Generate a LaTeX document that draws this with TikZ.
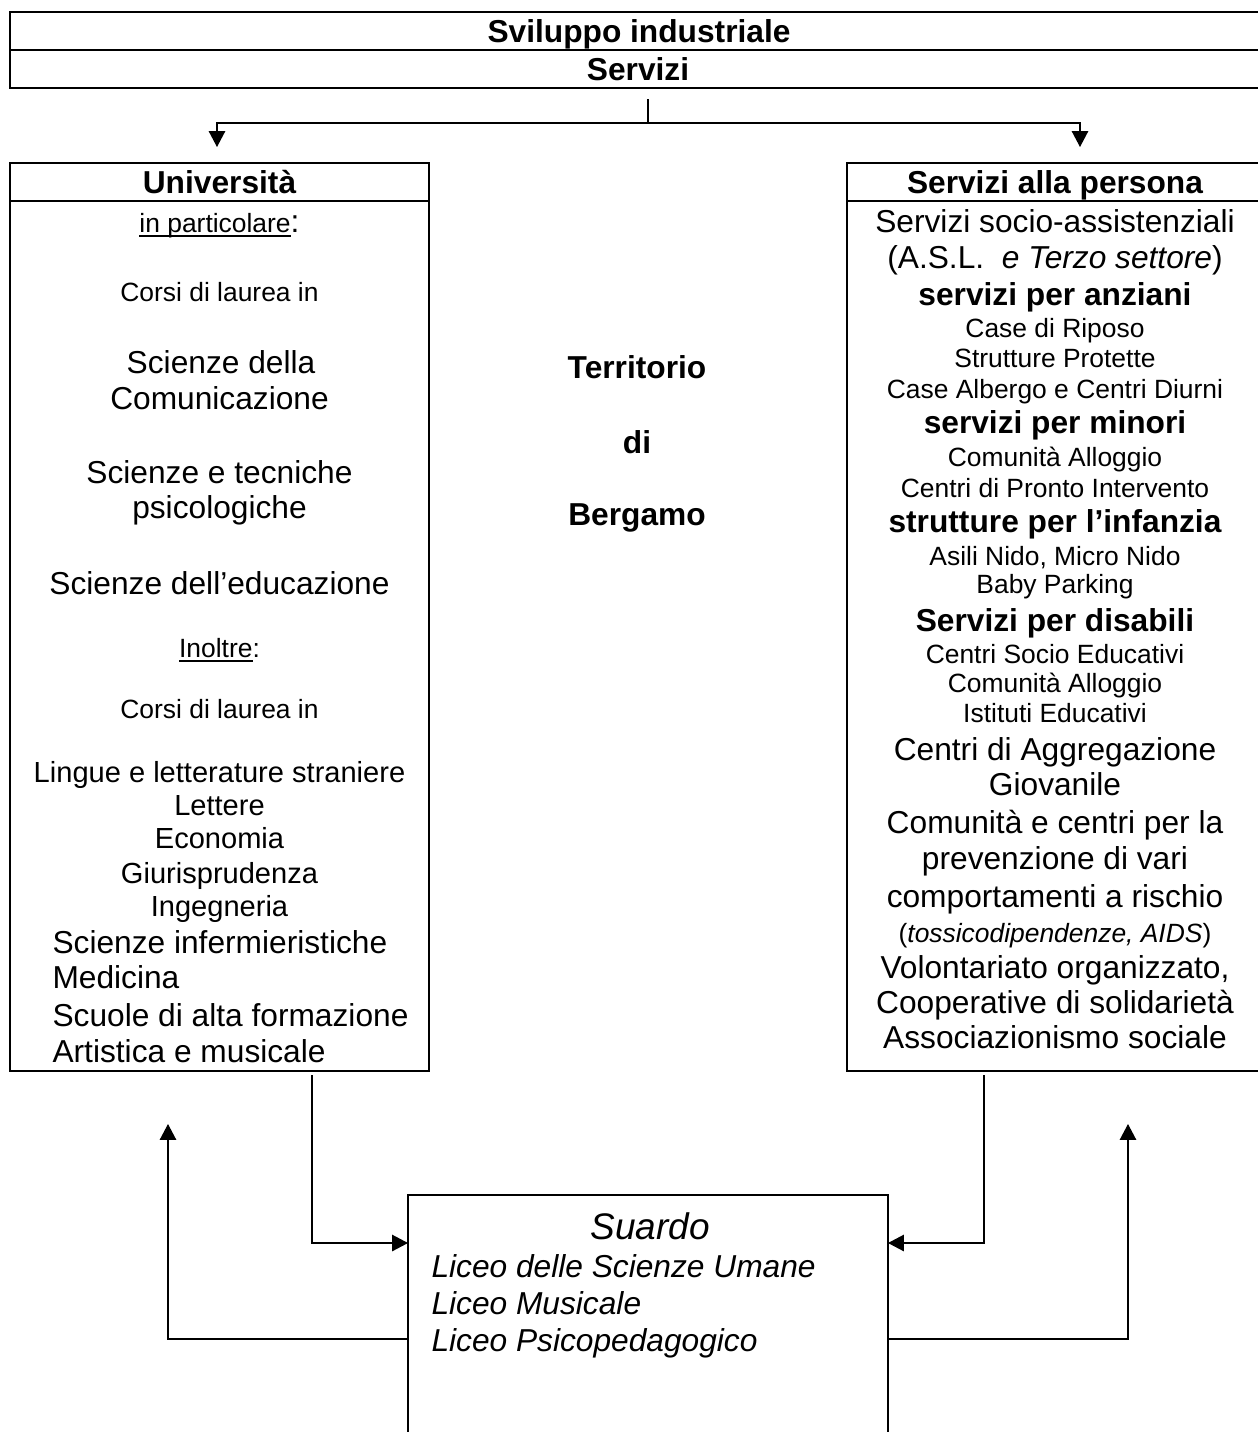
\documentclass[tikz,border=0pt]{standalone}
\usepackage{fontspec}
\setmainfont{Liberation Sans}
\usetikzlibrary{arrows.meta,fit}
\newcommand{\myul}[1]{\setbox0\hbox{#1}\rlap{\rule[-1.7pt]{\wd0}{0.45pt}}\box0}
\begin{document}
\begin{tikzpicture}[x=0.37855pt,y=-0.37855pt,
  boxline/.style={draw, line width=0.7pt, inner sep=0pt},
  thinbox/.style={draw, line width=0.45pt, inner sep=0pt},
  conn/.style={line width=0.5pt},
  arr/.style={conn, -{Triangle[length=6pt,width=6.2pt]}},
  ct/.style={anchor=base, inner sep=0pt},
  lt/.style={anchor=base west, inner sep=0pt},
  fxii/.style={font=\fontsize{12}{14}\selectfont},
  fxi/.style={font=\fontsize{11}{13}\selectfont},
  fx/.style={font=\fontsize{10}{12}\selectfont},
  fb/.style={font=\fontsize{12}{14}\selectfont\bfseries},
  fit12/.style={font=\fontsize{12}{14}\selectfont\itshape},
  fit14/.style={font=\fontsize{14}{16}\selectfont\itshape}]
\clip (0,0) rectangle (1258,1432);

% top box
\node[boxline, fit={(10,12)(1275,88)}] (top) {};
\draw[line width=0.7pt] (10,50) -- (1275,50);
\node[ct, fb] (t1) at (639,42) {Sviluppo industriale};
\node[ct, fb] (t2) at (638,80) {Servizi};

% connectors from top
\coordinate (s0) at (648,99);
\coordinate (s1) at (648,123);
\coordinate (sl) at (217,123);
\coordinate (sr) at (1080,123);
\coordinate (tl) at (217,147);
\coordinate (tr) at (1080,147);
\draw[conn] (s0) -- (s1);
\draw[arr] (s1) -- (sl) -- (tl);
\draw[arr] (s1) -- (sr) -- (tr);

% Universita box
\node[boxline, fit={(10,163)(429,1071)}] (univ) {};
\draw[line width=0.7pt] (10,201) -- (429,201);
\node[ct, fb] (u0) at (219.5,193) {Università};
\node[ct, fx] (u1) at (219.5,232) {\myul{in particolare}{\fontsize{12}{14}\selectfont:}};
\node[ct, fx] (u2) at (219.5,301) {Corsi di laurea in};
\node[ct, fxii] (u3) at (221,373) {Scienze della};
\node[ct, fxii] (u4) at (219.5,409) {Comunicazione};
\node[ct, fxii] (u5) at (219.5,483) {Scienze e tecniche};
\node[ct, fxii] (u6) at (219.5,518) {psicologiche};
\node[ct, fxii] (u7) at (219.5,594) {Scienze dell’educazione};
\node[ct, fx] (u8) at (219.5,657) {\myul{Inoltre}:};
\node[ct, fx] (u9) at (219.5,718) {Corsi di laurea in};
\node[ct, fxi] (u10) at (219.5,782) {Lingue e letterature straniere};
\node[ct, fxi] (u11) at (219.5,815) {Lettere};
\node[ct, fxi] (u12) at (219.5,848) {Economia};
\node[ct, fxi] (u13) at (219.5,883) {Giurisprudenza};
\node[ct, fxi] (u14) at (219.5,916) {Ingegneria};
\node[lt, fxii] (u15) at (52,953) {Scienze infermieristiche};
\node[lt, fxii] (u16) at (52,988) {Medicina};
\node[lt, fxii] (u17) at (52,1026) {Scuole di alta formazione};
\node[lt, fxii] (u18) at (52,1062) {Artistica e musicale};

% center text
\node[ct, fb] (c1) at (637,378) {Territorio};
\node[ct, fb] (c2) at (637,453) {di};
\node[ct, fb] (c3) at (637,525) {Bergamo};

% Servizi alla persona box
\node[boxline, fit={(847,163)(1265,1071)}] (pers) {};
\draw[line width=0.7pt] (847,201) -- (1265,201);
\node[ct, fb] (r0) at (1055,193) {Servizi alla persona};
\node[ct, fxii] (r1) at (1055,232) {Servizi socio-assistenziali};
\node[ct, fxii] (r2) at (1055,268) {(A.S.L.\ \ \textit{e Terzo settore})};
\node[ct, fb] (r3) at (1055,305) {servizi per anziani};
\node[ct, fx] (r4) at (1055,337) {Case di Riposo};
\node[ct, fx] (r5) at (1055,367) {Strutture Protette};
\node[ct, fx] (r6) at (1055,398) {Case Albergo e Centri Diurni};
\node[ct, fb] (r7) at (1055,433) {servizi per minori};
\node[ct, fx] (r8) at (1055,466) {Comunità Alloggio};
\node[ct, fx] (r9) at (1055,497) {Centri di Pronto Intervento};
\node[ct, fb] (r10) at (1055,532) {strutture per l’infanzia};
\node[ct, fx] (r11) at (1055,565) {Asili Nido, Micro Nido};
\node[ct, fx] (r12) at (1055,593) {Baby Parking};
\node[ct, fb] (r13) at (1055,631) {Servizi per disabili};
\node[ct, fx] (r14) at (1055,663) {Centri Socio Educativi};
\node[ct, fx] (r15) at (1055,692) {Comunità Alloggio};
\node[ct, fx] (r16) at (1055,722) {Istituti Educativi};
\node[ct, fxii] (r17) at (1055,760) {Centri di Aggregazione};
\node[ct, fxii] (r18) at (1055,795) {Giovanile};
\node[ct, fxii] (r19) at (1055,833) {Comunità e centri per la};
\node[ct, fxii] (r20) at (1055,869) {prevenzione di vari};
\node[ct, fxii] (r21) at (1055,907) {comportamenti a rischio};
\node[ct, fx] (r22) at (1055,942) {(\textit{tossicodipendenze, AIDS})};
\node[ct, fxii] (r23) at (1055,978) {Volontariato organizzato,};
\node[ct, fxii] (r24) at (1055,1013) {Cooperative di solidarietà};
\node[ct, fxii] (r25) at (1055,1048) {Associazionismo sociale};

% Suardo box
\node[thinbox, fit={(408,1195)(888,1460)}] (suardo) {};
\node[ct, fit14] (s0t) at (650,1239) {Suardo};
\node[lt, fit12] (s1t) at (431,1277) {Liceo delle Scienze Umane};
\node[lt, fit12] (s2t) at (431,1314) {Liceo Musicale};
\node[lt, fit12] (s3t) at (431,1351) {Liceo Psicopedagogico};

% lower connectors
\coordinate (uo) at (312,1075);
\coordinate (ua) at (408,1243);
\coordinate (ro) at (984,1075);
\coordinate (ra) at (888,1243);
\coordinate (lb) at (408,1339);
\coordinate (ltip) at (168,1124);
\coordinate (rb) at (888,1339);
\coordinate (rtip) at (1128,1124);
\draw[arr] (uo) |- (ua);
\draw[arr] (ro) |- (ra);
\draw[arr] (lb) -| (ltip);
\draw[arr] (rb) -| (rtip);
\end{tikzpicture}
\end{document}
